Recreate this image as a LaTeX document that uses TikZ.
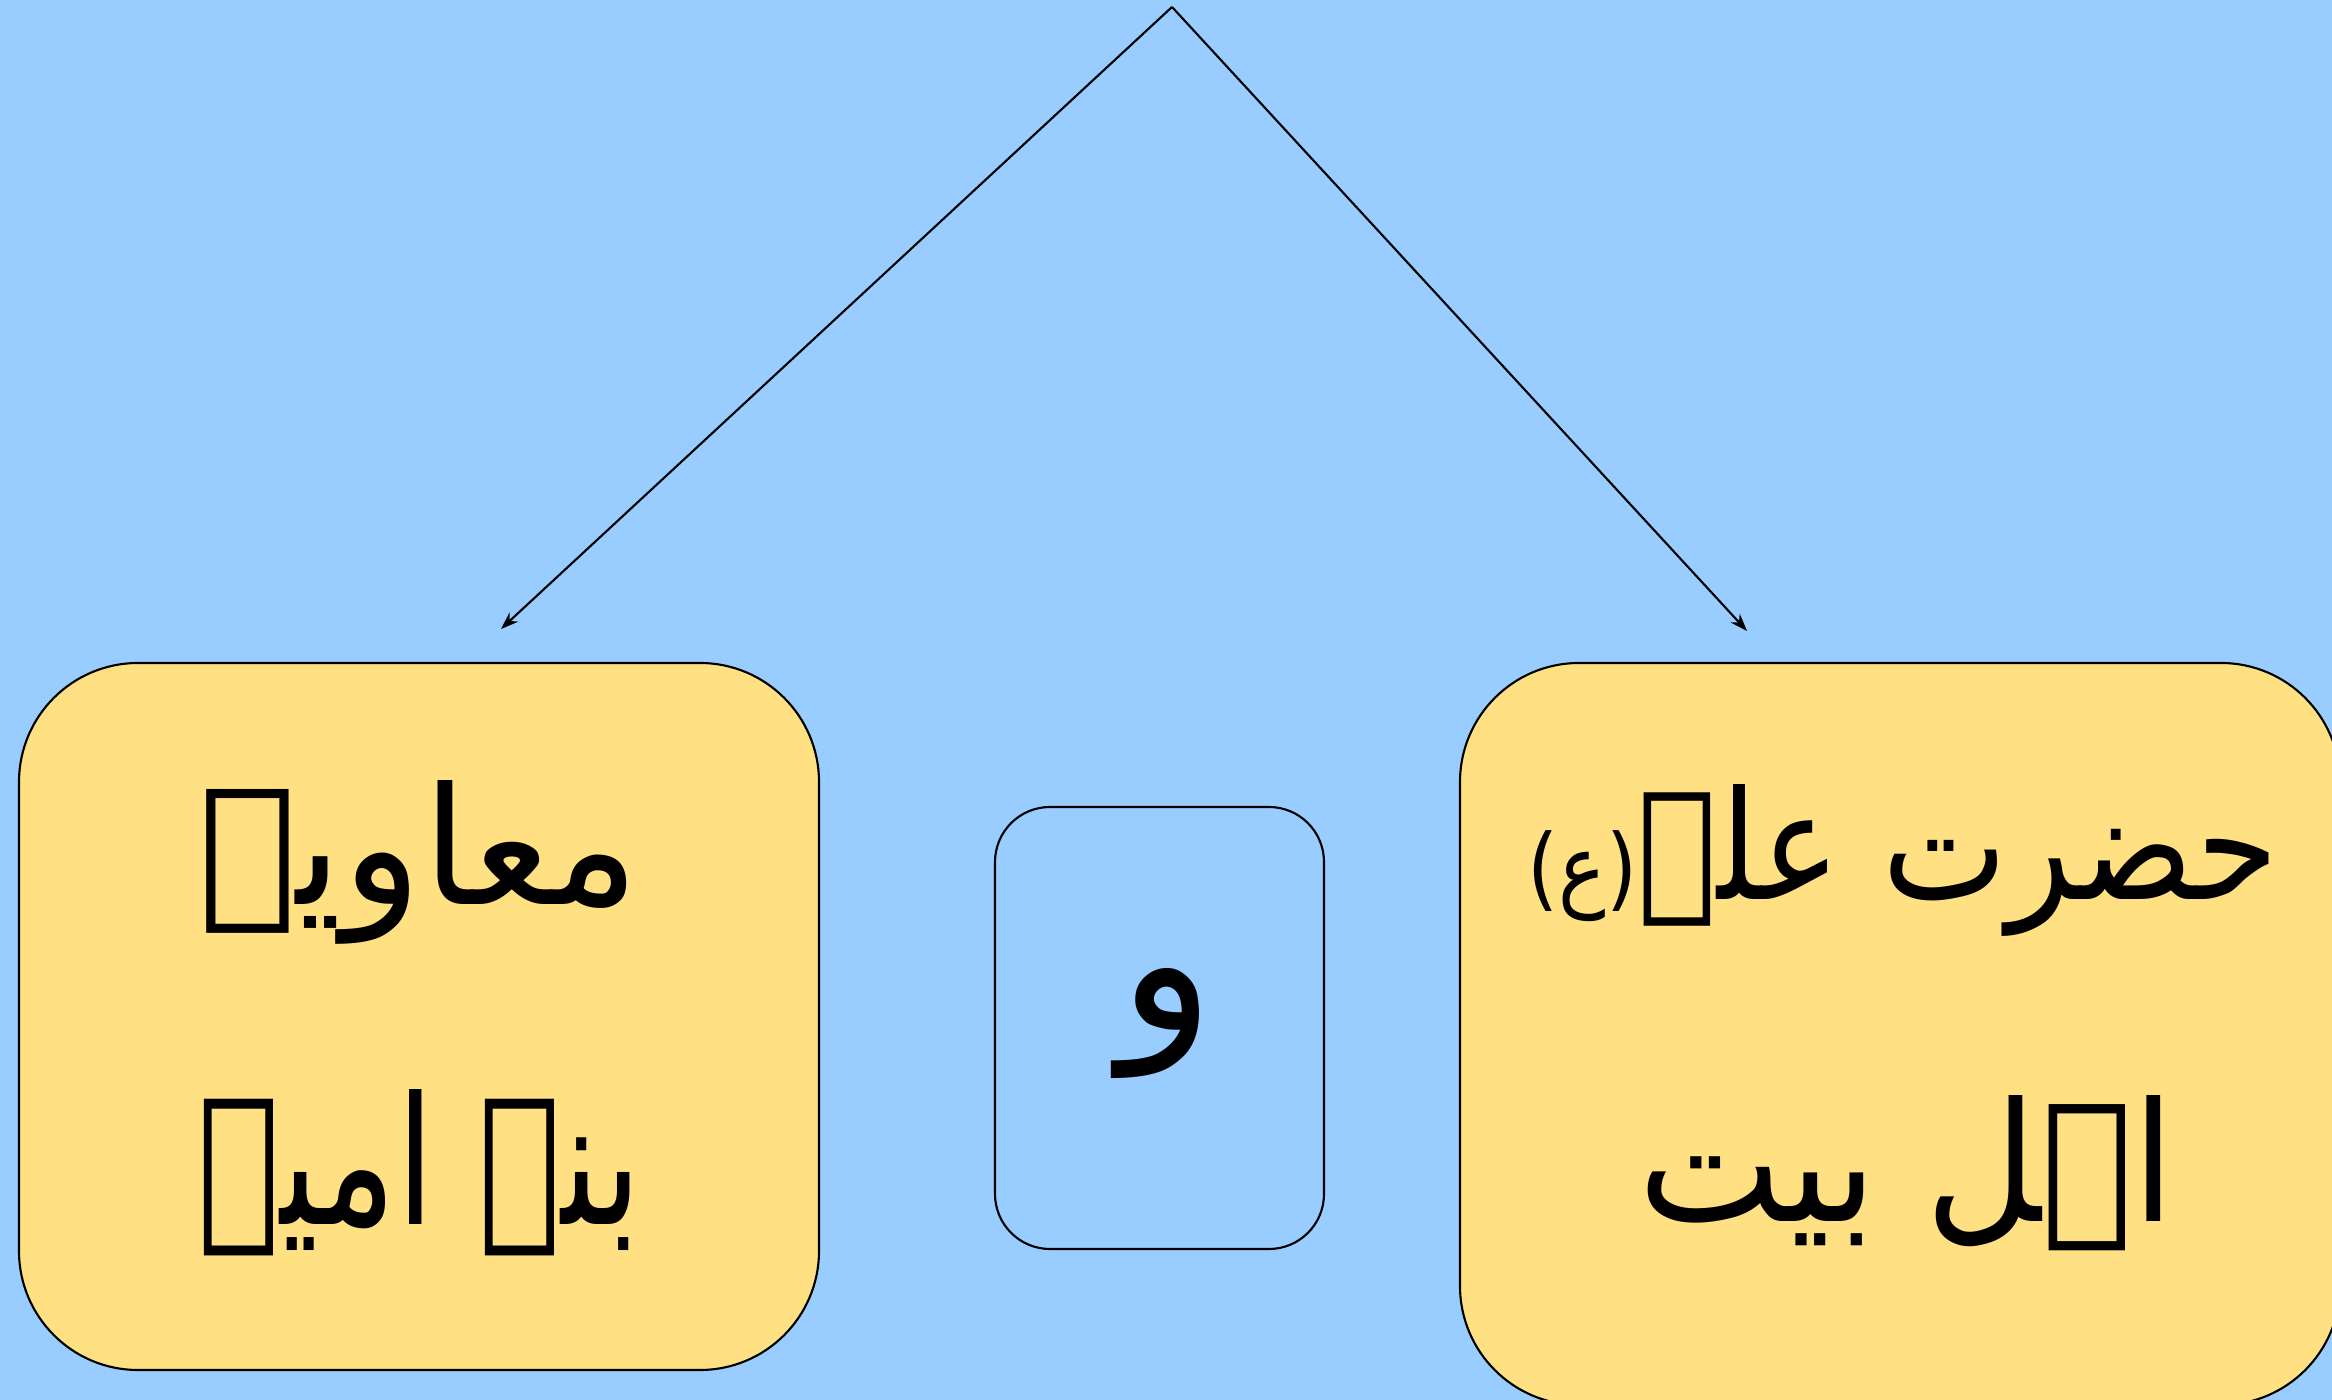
\documentclass[tikz,border=0pt]{standalone}
\usepackage{fontspec}
\usepackage{graphicx}
\usetikzlibrary{arrows.meta}
\TeXXeTstate=1
\newfontfamily\arabicfont[Script=Arabic]{DejaVu Sans}
\definecolor{bgblue}{RGB}{153,204,255}
\definecolor{boxyellow}{RGB}{255,224,130}
\tikzset{
  yellowbox/.style={draw=black, line width=0.6pt, fill=boxyellow, rounded corners=1.19cm},
  bluebox/.style={draw=black, line width=0.6pt, fill=bgblue, rounded corners=0.55cm},
  urdu/.style={font=\arabicfont\fontsize{50}{60}\selectfont, inner sep=0pt, anchor=base},
  link/.style={draw=black, line width=0.6pt, -{Stealth[length=5pt,width=3.6pt]}}
}
\begin{document}
\begin{tikzpicture}
\useasboundingbox (0,0) rectangle (23.32,14.00);
\fill[bgblue] (0,0) rectangle (23.32,14.00);
% boxes
\draw[yellowbox] (0.19,0.30) rectangle (8.19,7.37);
\draw[yellowbox] (14.60,-0.05) rectangle (23.40,7.37);
\draw[bluebox] (9.95,1.51) rectangle (13.24,5.93);
% texts
\node[urdu] (muawiya) at (4.19,4.95) {\resizebox{4.42cm}{1.24cm}{\beginR معاویہ\endR}};
\node[urdu] (banu) at (4.20,1.75) {\resizebox{4.44cm}{1.35cm}{\beginR بنے امیہ\endR}};
\node[urdu] (ali) at (19.03,5.00) {\resizebox{7.51cm}{1.15cm}{\beginR حضرت علے{\fontsize{30}{36}\selectfont(ع)}\endR}};
\node[urdu] (ahl) at (19.07,1.78) {\resizebox{5.37cm}{1.26cm}{\beginR اہل بیت\endR}};
\node[urdu, anchor=center, font=\arabicfont\fontsize{56}{66}\selectfont] (wa) at (11.67,3.77) {\beginR و\endR};
% connectors
\coordinate (apex) at (11.72,13.93);
\coordinate (lefttip) at (5.01,7.71);
\coordinate (righttip) at (17.47,7.69);
\draw[link] (apex) -- (lefttip);
\draw[link] (apex) -- (righttip);
\end{tikzpicture}
\end{document}
